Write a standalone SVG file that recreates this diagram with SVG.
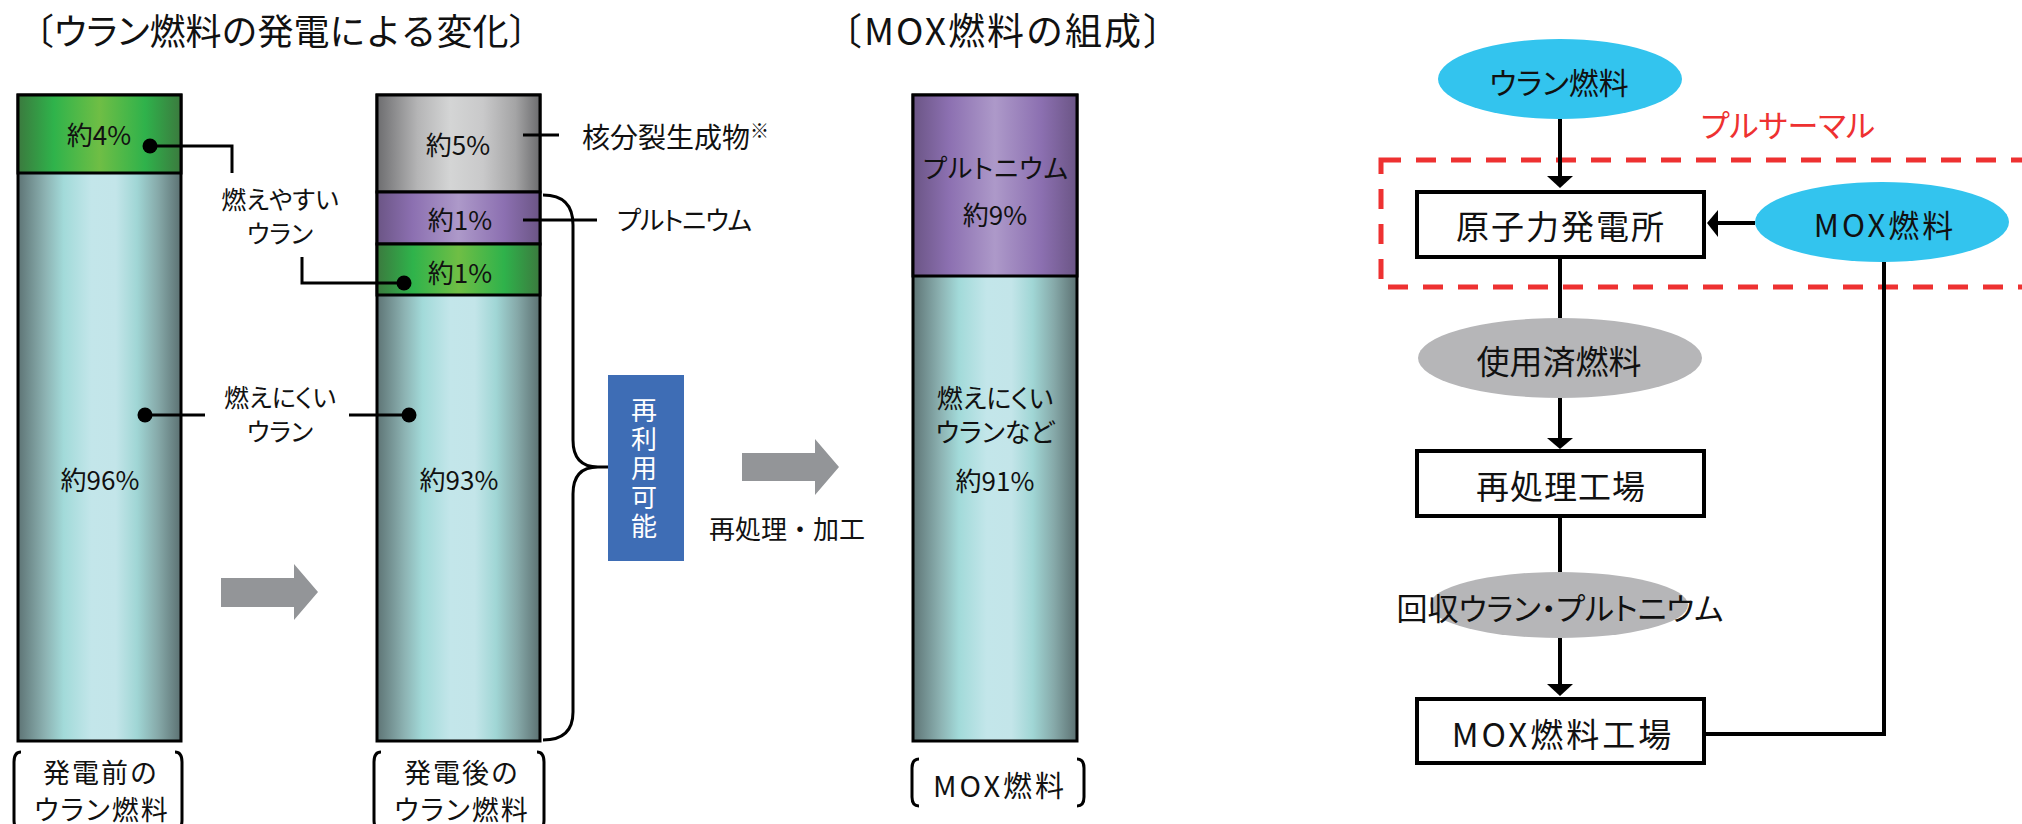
<svg xmlns="http://www.w3.org/2000/svg" width="2022" height="824" viewBox="0 0 2022 824">
<style>
text{font-family:"Noto Sans CJK JP","Noto Sans CJK SC",sans-serif;fill:#111;}
.p{font-feature-settings:"palt";}
.c{text-anchor:middle;}
.ln{fill:none;stroke:#000;stroke-width:3;}
.bar{stroke:#000;stroke-width:3;}
.box{fill:#fff;stroke:#000;stroke-width:4;}
.fl{fill:none;stroke:#000;stroke-width:4;}
.ga{fill:#939598;}
</style>
<defs>
<linearGradient id="gTeal" x1="0" y1="0" x2="1" y2="0">
<stop offset="0" stop-color="#5E7475"/><stop offset="0.17" stop-color="#8DB3B3"/><stop offset="0.28" stop-color="#A2DAD9"/><stop offset="0.45" stop-color="#C3E6EA"/><stop offset="0.6" stop-color="#C3E5E9"/><stop offset="0.73" stop-color="#A0D6D5"/><stop offset="0.86" stop-color="#86A9A9"/><stop offset="1" stop-color="#5C7172"/>
</linearGradient>
<linearGradient id="gGreen" x1="0" y1="0" x2="1" y2="0">
<stop offset="0" stop-color="#3B7A3E"/><stop offset="0.22" stop-color="#2FB34B"/><stop offset="0.5" stop-color="#6FBE45"/><stop offset="0.78" stop-color="#2FB24B"/><stop offset="1" stop-color="#3B7A3E"/>
</linearGradient>
<linearGradient id="gGray" x1="0" y1="0" x2="1" y2="0">
<stop offset="0" stop-color="#6D6D6F"/><stop offset="0.25" stop-color="#B5B5B6"/><stop offset="0.45" stop-color="#D4D5D5"/><stop offset="0.65" stop-color="#C9C9CA"/><stop offset="0.85" stop-color="#A4A4A5"/><stop offset="1" stop-color="#6C6C6E"/>
</linearGradient>
<linearGradient id="gPurple" x1="0" y1="0" x2="1" y2="0">
<stop offset="0" stop-color="#6B5585"/><stop offset="0.22" stop-color="#8C70B1"/><stop offset="0.5" stop-color="#AD99C9"/><stop offset="0.78" stop-color="#8C70B1"/><stop offset="1" stop-color="#6B5585"/>
</linearGradient>
</defs>

<!-- titles -->
<text id="title1" x="18" y="45" font-size="36">〔<tspan class="p">ウラン</tspan>燃料の発電による変化〕</text>
<text id="title2" x="825" y="45" font-size="37" letter-spacing="2">〔MOX燃料の組成〕</text>

<!-- bar 1 -->
<g id="bar1">
<rect class="bar" x="18" y="95" width="163" height="646" fill="url(#gTeal)"/>
<rect class="bar" x="18" y="95" width="163" height="78" fill="url(#gGreen)"/>
<text class="c" x="99" y="145" font-size="26">約4%</text>
<text class="c" x="100" y="490" font-size="26">約96%</text>
</g>

<!-- bar 2 -->
<g id="bar2">
<rect class="bar" x="377" y="95" width="163" height="646" fill="url(#gTeal)"/>
<rect class="bar" x="377" y="95" width="163" height="97" fill="url(#gGray)"/>
<rect class="bar" x="377" y="192" width="163" height="52" fill="url(#gPurple)"/>
<rect class="bar" x="377" y="244" width="163" height="51" fill="url(#gGreen)"/>
<text class="c" x="458" y="155" font-size="26">約5%</text>
<text class="c" x="460" y="230" font-size="26">約1%</text>
<text class="c" x="460" y="283" font-size="26">約1%</text>
<text class="c" x="459" y="490" font-size="26">約93%</text>
</g>

<!-- bar 3 (MOX) -->
<g id="bar3">
<rect class="bar" x="913" y="95" width="164" height="646" fill="url(#gTeal)"/>
<rect class="bar" x="913" y="95" width="164" height="181" fill="url(#gPurple)"/>
<text class="c p" x="996" y="178" font-size="26" letter-spacing="1">プルトニウム</text>
<text class="c" x="995" y="225" font-size="26">約9%</text>
<text class="c p" x="995" y="408" font-size="26">燃えにくい</text>
<text class="c p" x="995" y="442" font-size="26">ウランなど</text>
<text class="c" x="995" y="491" font-size="26">約91%</text>
</g>

<!-- labels -->
<g id="labels">
<text class="c p" x="280" y="209" font-size="25">燃えやすい</text>
<text class="c p" x="280" y="243" font-size="25">ウラン</text>
<text class="c p" x="280" y="407" font-size="25">燃えにくい</text>
<text class="c p" x="280" y="441" font-size="25">ウラン</text>
<text x="582" y="148" font-size="28">核分裂生成物<tspan font-size="19" dy="-10">※</tspan></text>
<text class="p" x="617" y="230" font-size="26" letter-spacing="-1">プルトニウム</text>
<text class="c" x="787" y="539" font-size="26">再処理・加工</text>
</g>

<g id="reuse">
<rect x="608" y="375" width="76" height="186" fill="#3E6DB5"/>
<text x="644" y="397" font-size="26" letter-spacing="3" style="fill:#fff;writing-mode:vertical-rl">再利用可能</text>
</g>

<!-- bottom captions -->
<g id="cap1">
<path class="ln" d="M21 752 Q14 752 14 762 V820 Q14 830 21 830"/>
<path class="ln" d="M175 752 Q182 752 182 762 V820 Q182 830 175 830"/>
<text class="c" x="101" y="783" font-size="27" letter-spacing="2">発電前の</text>
<text class="c p" x="102" y="820" font-size="27" letter-spacing="2">ウラン燃料</text>
</g>
<g id="cap2">
<path class="ln" d="M381 752 Q374 752 374 762 V820 Q374 830 381 830"/>
<path class="ln" d="M537 752 Q544 752 544 762 V820 Q544 830 537 830"/>
<text class="c" x="462" y="783" font-size="27" letter-spacing="2">発電後の</text>
<text class="c p" x="462" y="820" font-size="27" letter-spacing="2">ウラン燃料</text>
</g>
<g id="cap3">
<path class="ln" d="M919 759 Q912 759 912 768 V797 Q912 806 919 806"/>
<path class="ln" d="M1077 759 Q1084 759 1084 768 V797 Q1084 806 1077 806"/>
<text class="c" x="1000" y="797" font-size="29" letter-spacing="3">MOX燃料</text>
</g>

<!-- left connectors -->
<g id="connectors">
<path class="ln" d="M150 146 H232 V173"/>
<path class="ln" d="M302 257 V283 H404"/>
<path class="ln" d="M145 415 H205"/>
<path class="ln" d="M349 415 H409"/>
<path class="ln" d="M523 135 H559"/>
<path class="ln" d="M523 220 H597"/>
<path class="ln" d="M543 195 Q573 195 573 225 V440 Q573 467 598 467 H608 M598 467 Q573 467 573 494 V712 Q573 740 543 740"/>
<circle cx="150" cy="146" r="7.5"/>
<circle cx="404" cy="283" r="7.5"/>
<circle cx="145" cy="415" r="7.5"/>
<circle cx="409" cy="415" r="7.5"/>
<polygon class="ga" points="221,578 294,578 294,564 318,592 294,620 294,607 221,607"/>
<polygon class="ga" points="742,453 815,453 815,439 839,467 815,495 815,481 742,481"/>
</g>

<!-- flowchart -->
<rect id="pluthermal-zone" x="1381" y="160" width="720" height="127" fill="none" stroke="#EE3131" stroke-width="5" stroke-dasharray="20 15"/>
<text id="pluthermal-label" class="c p" x="1788" y="137" font-size="31" style="fill:#EE3131">プルサーマル</text>

<g id="flow-connectors">
<path class="fl" d="M1560 119 V178"/>
<polygon points="1547,176 1573,176 1560,188"/>
<path class="fl" d="M1755 223 H1715"/>
<polygon points="1718,210 1718,237 1707,223"/>
<path class="fl" d="M1560 259 V318"/>
<path class="fl" d="M1560 397 V440"/>
<polygon points="1547,438 1573,438 1560,449"/>
<path class="fl" d="M1560 518 V572"/>
<path class="fl" d="M1560 638 V686"/>
<polygon points="1547,684 1573,684 1560,696"/>
<path class="fl" d="M1706 734 H1884 V262"/>
</g>

<g id="uranium-fuel">
<ellipse cx="1560" cy="79" rx="122" ry="40" fill="#33C4EE"/>
<text class="c p" x="1559" y="94" font-size="30">ウラン燃料</text>
</g>
<g id="plant">
<rect class="box" x="1417" y="192" width="287" height="65"/>
<text class="c" x="1561" y="239" font-size="33" letter-spacing="2">原子力発電所</text>
</g>
<g id="mox-fuel">
<ellipse cx="1882" cy="222" rx="127" ry="40" fill="#33C4EE"/>
<text class="c" x="1885" y="237" font-size="31" letter-spacing="3">MOX燃料</text>
</g>
<g id="spent-fuel">
<ellipse cx="1560" cy="358" rx="142" ry="40" fill="#B6B6B8"/>
<text class="c" x="1559" y="374" font-size="33">使用済燃料</text>
</g>
<g id="reprocessing">
<rect class="box" x="1417" y="451" width="287" height="65"/>
<text class="c" x="1561" y="499" font-size="33" letter-spacing="1">再処理工場</text>
</g>
<g id="recovered">
<ellipse cx="1559" cy="605" rx="129" ry="33" fill="#B6B6B8"/>
<text class="c p" x="1560" y="620" font-size="31">回収ウラン・プルトニウム</text>
</g>
<g id="mox-plant">
<rect class="box" x="1417" y="699" width="287" height="64"/>
<text class="c" x="1563" y="747" font-size="33" letter-spacing="3">MOX燃料工場</text>
</g>
</svg>
